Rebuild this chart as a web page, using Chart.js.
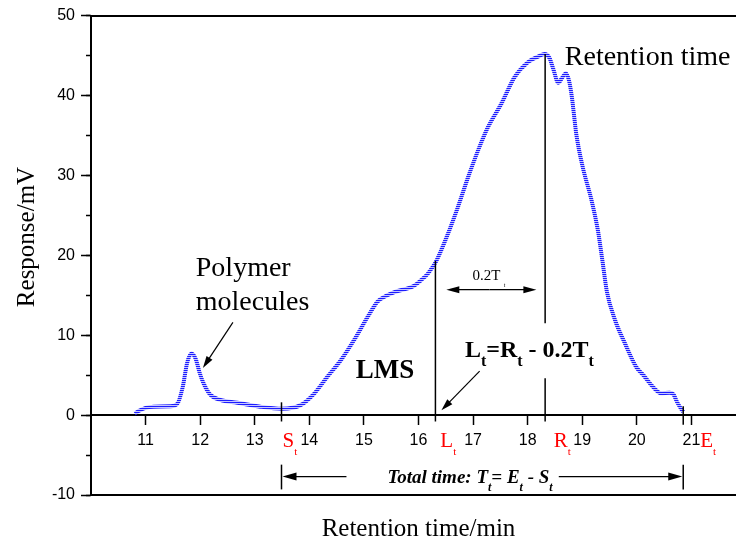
<!DOCTYPE html>
<html>
<head>
<meta charset="utf-8">
<script src="https://cdn.jsdelivr.net/npm/chart.js@4.4.1/dist/chart.umd.min.js"></script>
<style>
body { margin: 0; background: #fff; overflow: hidden; }
#wrap { width: 746px; height: 544px; }
</style>
</head>
<body>
<div id="wrap"><canvas id="chromatogram" width="746" height="544"></canvas></div>
<script>
// elution profile: retention time (min) / detector response (mV)
var times = [10.80, 10.90, 11.00, 11.15, 11.45, 11.58, 11.68, 11.76, 11.84, 11.92,
             11.99, 12.06, 12.18, 12.37, 12.68, 13.10, 13.50, 13.84, 14.09, 14.33,
             14.58, 14.82, 15.07, 15.25, 15.40, 15.56, 15.92, 16.05, 16.17, 16.32,
             16.54, 16.72, 16.91, 17.09, 17.27, 17.52, 17.76, 18.01, 18.20, 18.31,
             18.40, 18.47, 18.56, 18.63, 18.70, 18.76, 18.81, 18.85, 18.89, 19.01,
             19.17, 19.29, 19.37, 19.45, 19.60, 19.78, 19.99, 20.12, 20.30, 20.44,
             20.60, 20.67, 20.74, 20.81, 20.85];
var response = [0.2, 0.6, 0.9, 1.05, 1.1, 1.4, 3.5, 6.5, 7.7, 7.0,
                5.3, 4.0, 2.6, 1.9, 1.55, 1.05, 0.8, 1.25, 2.7, 4.8,
                6.9, 9.4, 12.3, 14.2, 14.9, 15.4, 16.2, 16.9, 17.7, 19.2,
                22.7, 26.0, 29.8, 33.1, 36.0, 39.0, 42.3, 44.2, 44.9, 45.2,
                44.7, 43.3, 41.6, 42.2, 42.8, 41.8, 39.8, 37.5, 35.2, 31.0,
                26.9, 23.0, 19.3, 15.5, 11.9, 9.0, 6.0, 5.0, 3.5, 2.75,
                2.8, 2.6, 1.6, 0.8, 0.4];

// start, LMS limit, retention and end times
var markerNames = ["S", "L", "R", "E"];
var markerTimes = [13.49, 16.31, 18.32, 20.85];

var xTickLabels = [11, 12, 13, 14, 15, 16, 17, 18, 19, 20, 21];

var SERIF = "'Liberation Serif', 'Times New Roman', serif";
var SANS = "'Liberation Sans', Arial, sans-serif";

Chart.defaults.color = "#000";
Chart.defaults.font.family = SANS;

var points = [];
for (var i = 0; i < times.length; i++) {
        points.push({x: times[i], y: response[i]});
}

// blue line with thin light stripes
function stripes()
{
        var c = document.createElement("canvas");
        c.width = 1;
        c.height = 2;
        var g = c.getContext("2d");
        g.fillStyle = "#1c1cff";
        g.fillRect(0, 0, 1, 1);
        g.fillStyle = "#c6c6ff";
        g.fillRect(0, 1, 1, 1);
        return g.createPattern(c, "repeat");
}

function arrow(ctx, x1, y1, x2, y2, len, half)
{
        var a = Math.atan2(y2 - y1, x2 - x1);
        ctx.beginPath();
        ctx.moveTo(x1, y1);
        ctx.lineTo(x2 - Math.cos(a) * len * 0.6, y2 - Math.sin(a) * len * 0.6);
        ctx.stroke();
        ctx.beginPath();
        ctx.moveTo(x2, y2);
        ctx.lineTo(x2 - Math.cos(a) * len - Math.sin(a) * half, y2 - Math.sin(a) * len + Math.cos(a) * half);
        ctx.lineTo(x2 - Math.cos(a) * len + Math.sin(a) * half, y2 - Math.sin(a) * len - Math.cos(a) * half);
        ctx.closePath();
        ctx.fill();
}

// parts: [text, font, baseline shift]
function rich(ctx, x, y, parts)
{
        ctx.textAlign = "left";
        ctx.textBaseline = "alphabetic";
        for (var i = 0; i < parts.length; i++) {
                ctx.font = parts[i][1];
                ctx.fillText(parts[i][0], x, y + parts[i][2]);
                x += ctx.measureText(parts[i][0]).width;
        }
}

var annotate = {
        id: "annotate",
        afterDatasetsDraw: function(chart) {
                var ctx = chart.ctx;
                var xs = chart.scales.x, ys = chart.scales.y;
                function px(v) { return xs.getPixelForValue(v); }
                function py(v) { return ys.getPixelForValue(v); }

                ctx.save();
                ctx.strokeStyle = "#000";
                ctx.fillStyle = "#000";
                ctx.lineWidth = 1.5;

                // marker verticals
                var segs = [
                        [markerTimes[0], 1.6, -0.8], [markerTimes[0], -6.2, -9.3],
                        [markerTimes[1], 19.3, -0.8],
                        [markerTimes[2], 45.2, 11.5], [markerTimes[2], 4.6, -0.8],
                        [markerTimes[3], 1.1, -1.2], [markerTimes[3], -6.2, -9.3]
                ];
                segs.forEach(function(s) {
                        ctx.beginPath();
                        ctx.moveTo(px(s[0]), py(s[1]));
                        ctx.lineTo(px(s[0]), py(s[2]));
                        ctx.stroke();
                });

                ctx.lineWidth = 1.2;
                arrow(ctx, px(12.60), py(11.6), px(12.05), py(5.9), 12, 3.5);
                arrow(ctx, px(17.12), py(5.5), px(16.42), py(0.6), 12, 3.5);
                arrow(ctx, px(17.3), py(15.7), px(16.51), py(15.7), 13, 3.5);
                arrow(ctx, px(17.3), py(15.7), px(18.16), py(15.7), 13, 3.5);
                arrow(ctx, px(14.68), py(-7.7), px(markerTimes[0]) + 1, py(-7.7), 14, 4);
                arrow(ctx, px(18.57), py(-7.7), px(markerTimes[3]) - 1, py(-7.7), 14, 4);

                // text labels
                ctx.textAlign = "left";
                ctx.textBaseline = "alphabetic";
                ctx.font = "28px " + SERIF;
                ctx.fillText("Retention time", px(18.68), py(43.8));
                ctx.fillText("Polymer", px(11.92), py(17.4));
                ctx.fillText("molecules", px(11.92), py(13.2));
                ctx.font = "bold 27px " + SERIF;
                ctx.fillText("LMS", px(14.85), py(4.68));
                ctx.font = "15px " + SERIF;
                ctx.fillText("0.2T", px(16.99), py(16.9));
                ctx.font = "6px " + SERIF;
                ctx.fillText("t", px(17.56), py(16.0));

                var big = "bold 24px " + SERIF, sub = "bold 16px " + SERIF;
                rich(ctx, px(16.85), py(7.3), [
                        ["L", big, 0], ["t", sub, 9], ["=R", big, 0], ["t", sub, 9],
                        [" - 0.2T", big, 0], ["t", sub, 9]
                ]);

                var bi = "italic bold 19px " + SERIF, bis = "italic bold 12px " + SERIF;
                rich(ctx, px(15.43), py(-8.54), [
                        ["Total time: T", bi, 0], ["t", bis, 8], ["= E", bi, 0], ["t", bis, 8],
                        [" - S", bi, 0], ["t", bis, 8]
                ]);

                // red time markers under the axis
                var labelAt = [13.51, 16.40, 18.48, 21.16];
                ctx.fillStyle = "#ff0000";
                for (var i = 0; i < markerNames.length; i++) {
                        rich(ctx, px(labelAt[i]), py(-4.0), [
                                [markerNames[i], "21px " + SERIF, 0], ["t", "11px " + SERIF, 8]
                        ]);
                }

                // value axis title
                ctx.fillStyle = "#000";
                ctx.font = "25px " + SERIF;
                ctx.textAlign = "center";
                ctx.translate(34, 237);
                ctx.rotate(-Math.PI / 2);
                ctx.fillText("Response/mV", 0, 0);
                ctx.restore();
        }
};

var chart = new Chart(document.getElementById("chromatogram"), {
        type: "line",
        data: {
                datasets: [{
                        data: points,
                        xAxisID: "x",
                        yAxisID: "y",
                        borderColor: stripes(),
                        borderWidth: 4,
                        pointRadius: 0,
                        fill: false,
                        cubicInterpolationMode: "monotone"
                }]
        },
        options: {
                responsive: false,
                animation: false,
                layout: {padding: 0},
                plugins: {legend: {display: false}, tooltip: {enabled: false}},
                scales: {
                        x: {
                                type: "linear",
                                axis: "x",
                                position: {y: 0},
                                min: 10,
                                max: 22,
                                afterBuildTicks: function(scale) {
                                        scale.ticks = xTickLabels.map(function(v) { return {value: v}; });
                                },
                                ticks: {font: {size: 16, family: SANS}, padding: 7, maxRotation: 0, autoSkip: false},
                                grid: {drawOnChartArea: false, tickLength: 9, tickColor: "#000", tickWidth: 1.5},
                                border: {color: "#000", width: 2}
                        },
                        xt: {
                                type: "linear",
                                axis: "x",
                                position: "top",
                                min: 10,
                                max: 22,
                                afterFit: function(scale) { scale.height = 15; },
                                ticks: {display: false},
                                grid: {drawOnChartArea: false, drawTicks: false},
                                border: {color: "#000", width: 2}
                        },
                        xb: {
                                type: "linear",
                                axis: "x",
                                position: "bottom",
                                min: 10,
                                max: 22,
                                afterFit: function(scale) { scale.height = 49; },
                                ticks: {display: false},
                                grid: {drawOnChartArea: false, drawTicks: false},
                                border: {color: "#000", width: 2},
                                title: {
                                        display: true,
                                        text: "Retention time/min",
                                        font: {size: 25, family: SERIF},
                                        padding: {top: 0, bottom: 0}
                                }
                        },
                        y: {
                                type: "linear",
                                axis: "y",
                                position: "left",
                                weight: 1,
                                min: -10,
                                max: 50,
                                afterFit: function(scale) { scale.width = 91; },
                                ticks: {stepSize: 10, font: {size: 16, family: SANS}, padding: 6},
                                grid: {drawOnChartArea: false, tickLength: 10, tickColor: "#000", tickWidth: 1.5},
                                border: {color: "#000", width: 2}
                        },
                        ym: {
                                type: "linear",
                                axis: "y",
                                position: "left",
                                weight: 0,
                                min: -10,
                                max: 50,
                                afterFit: function(scale) { scale.width = 0; },
                                ticks: {stepSize: 5, display: false},
                                grid: {drawOnChartArea: false, tickLength: 5, tickColor: "#000", tickWidth: 1.5},
                                border: {display: false}
                        }
                }
        },
        plugins: [annotate]
});
</script>
</body>
</html>
